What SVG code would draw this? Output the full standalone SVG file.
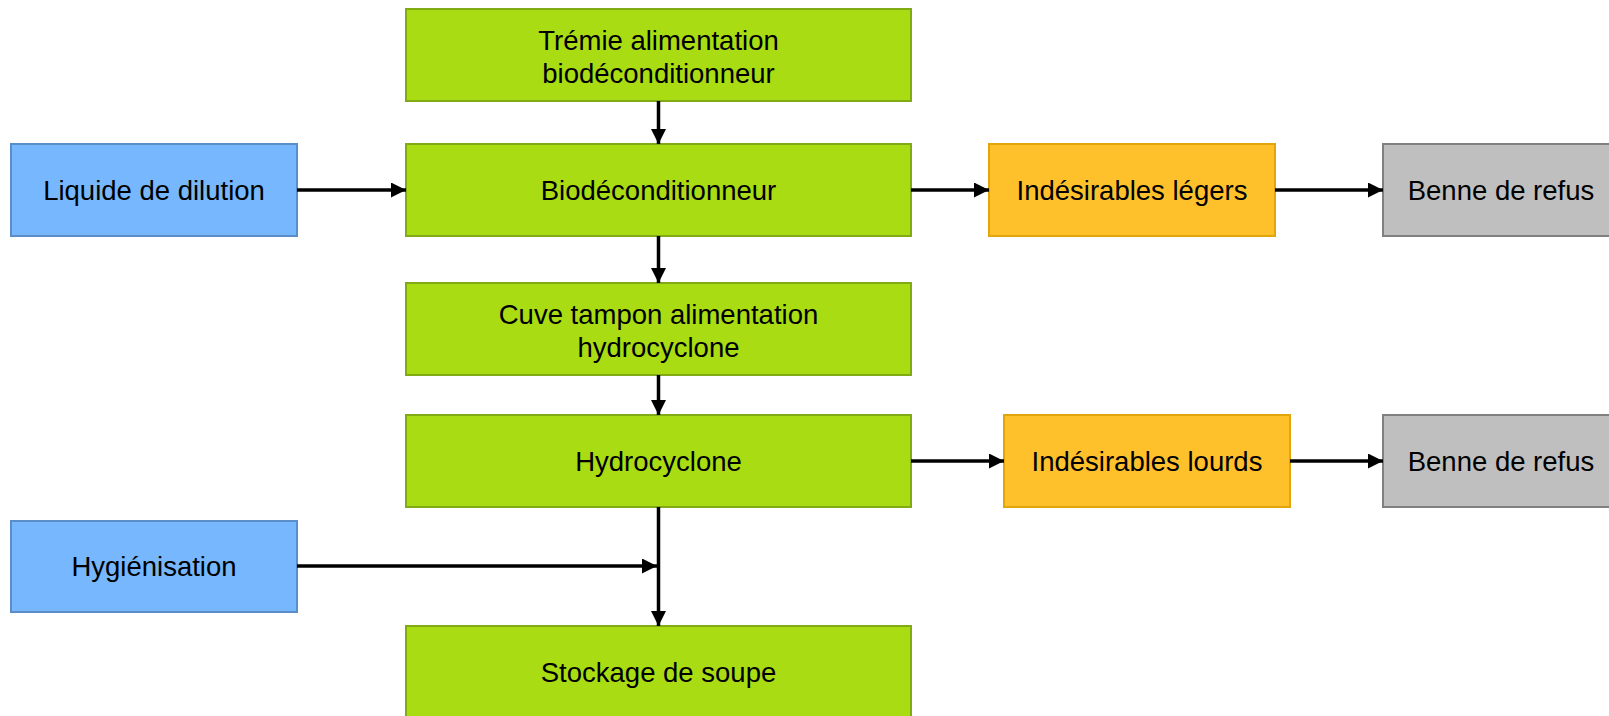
<svg xmlns="http://www.w3.org/2000/svg" width="1609" height="716" viewBox="0 0 1609 716">
<style>
  rect { stroke-width: 2; }
  .g { fill: #A9DC12; stroke: #82AA14; }
  .b { fill: #76B7FD; stroke: #5A8EC9; }
  .o { fill: #FEC12C; stroke: #E1A60A; }
  .k { fill: #BFBFBF; stroke: #808080; }
  text { font-family: "Liberation Sans", Arial, sans-serif; font-size: 27.5px; fill: #000; text-anchor: middle; }
  .c line { stroke: #000; stroke-width: 3.5; fill: none; }
</style>
<defs>
  <marker id="ah" markerUnits="userSpaceOnUse" markerWidth="17" markerHeight="17" refX="15" refY="7.5" orient="auto">
    <path d="M0,0 L15,7.5 L0,15 z" fill="#000"/>
  </marker>
</defs>
<rect width="1609" height="716" fill="#fff"/>

<g id="n-tremie"><rect class="g" x="406" y="9" width="505" height="92"/><text x="658.5" y="50">Trémie alimentation</text><text x="658.5" y="83">biodéconditionneur</text></g>
<g id="n-liquide"><rect class="b" x="11" y="144" width="286" height="92"/><text x="154" y="200">Liquide de dilution</text></g>
<g id="n-biodeco"><rect class="g" x="406" y="144" width="505" height="92"/><text x="658.5" y="200">Biodéconditionneur</text></g>
<g id="n-legers"><rect class="o" x="989" y="144" width="286" height="92"/><text x="1132" y="200">Indésirables légers</text></g>
<g id="n-benne1"><rect class="k" x="1383" y="144" width="240" height="92"/><text x="1501" y="200">Benne de refus</text></g>
<g id="n-cuve"><rect class="g" x="406" y="283" width="505" height="92"/><text x="658.5" y="324">Cuve tampon alimentation</text><text x="658.5" y="357">hydrocyclone</text></g>
<g id="n-hydro"><rect class="g" x="406" y="415" width="505" height="92"/><text x="658.5" y="471">Hydrocyclone</text></g>
<g id="n-lourds"><rect class="o" x="1004" y="415" width="286" height="92"/><text x="1147" y="471">Indésirables lourds</text></g>
<g id="n-benne2"><rect class="k" x="1383" y="415" width="240" height="92"/><text x="1501" y="471">Benne de refus</text></g>
<g id="n-hyg"><rect class="b" x="11" y="521" width="286" height="91"/><text x="154" y="576">Hygiénisation</text></g>
<g id="n-stockage"><rect class="g" x="406" y="626" width="505" height="92"/><text x="658.5" y="682">Stockage de soupe</text></g>

<g id="connectors" class="c">
  <line x1="658.5" y1="101" x2="658.5" y2="144" marker-end="url(#ah)"/>
  <line x1="297" y1="190" x2="406" y2="190" marker-end="url(#ah)"/>
  <line x1="911" y1="190" x2="989" y2="190" marker-end="url(#ah)"/>
  <line x1="1275" y1="190" x2="1383" y2="190" marker-end="url(#ah)"/>
  <line x1="658.5" y1="236" x2="658.5" y2="283" marker-end="url(#ah)"/>
  <line x1="658.5" y1="375" x2="658.5" y2="415" marker-end="url(#ah)"/>
  <line x1="911" y1="461" x2="1004" y2="461" marker-end="url(#ah)"/>
  <line x1="1290" y1="461" x2="1383" y2="461" marker-end="url(#ah)"/>
  <line x1="658.5" y1="507" x2="658.5" y2="626" marker-end="url(#ah)"/>
  <line x1="297" y1="566" x2="657" y2="566" marker-end="url(#ah)"/>
</g>
</svg>
